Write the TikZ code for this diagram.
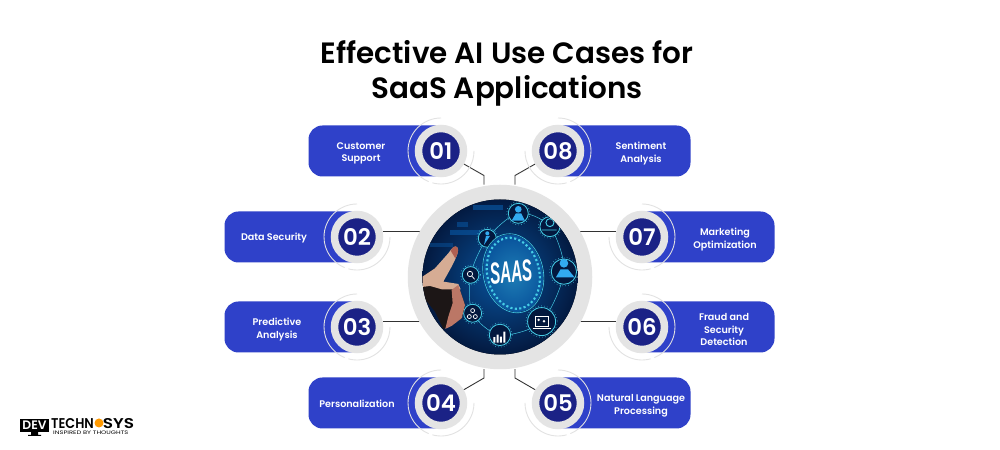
\documentclass[tikz,border=0pt]{standalone}
\usepackage{fontspec}
\setmainfont{Poppins}[BoldFont={Poppins SemiBold}]
\newfontfamily\saasfont{Liberation Sans}
\usetikzlibrary{backgrounds}
\definecolor{pillblue}{RGB}{47,65,201}
\definecolor{badgenavy}{RGB}{27,34,134}
\definecolor{ringgray}{RGB}{228,228,228}
\definecolor{arcgray}{RGB}{226,226,226}
\definecolor{linkdark}{RGB}{50,50,50}
\definecolor{glowcyan}{RGB}{70,205,230}
\definecolor{iconblue}{RGB}{50,170,240}
\definecolor{deepnavy}{RGB}{3,24,62}
\definecolor{midnavy}{RGB}{8,82,155}
\definecolor{skinlight}{RGB}{214,172,148}
\definecolor{skinred}{RGB}{176,96,82}
\definecolor{skindark}{RGB}{28,22,22}
\tikzset{
  pill/.style={fill=pillblue,rounded corners=14*0.03cm},
  pilltext/.style={text=white,font=\bfseries\fontsize{8.2}{10.7}\selectfont,align=center},
  badge/.style={circle,fill=badgenavy,draw=ringgray,line width=7.5*0.03cm,minimum size=45*0.03cm,inner sep=0pt,text=white,font=\bfseries\fontsize{19.5}{20}\selectfont},
  hub/.style={circle,draw=ringgray,line width=15*0.03cm,minimum size=169.5*0.03cm,inner sep=0pt},
  thinarc/.style={draw=arcgray,line width=0.75pt},
  link/.style={draw=linkdark,line width=0.75pt},
  orbit/.style={draw=glowcyan,line width=0.4pt},
  iconcircle/.style={draw=glowcyan,line width=0.7pt,fill=deepnavy},
}
\begin{document}
\begin{tikzpicture}[x=0.03cm,y=0.03cm]
  \useasboundingbox (0,0) rectangle (1000,450);

  \node[font=\bfseries\fontsize{25.1}{29.9}\selectfont,align=center] (title) at (507,377) {Effective AI Use Cases for\\SaaS Applications};

  \node[hub] (hub) at (500,173) {};

  % pills, badges and the two thin arcs, side 1 = pill on the left
  \foreach \n/\cx/\cy/\s/\tx/\dy/\txt in {
    01/441/299/1/361/-2.5/{Customer\\Support},
    02/357/213/1/274/-1/{Data Security},
    03/357/123/1/277/-2.5/{Predictive\\Analysis},
    04/441/47/1/357/-1/{Personalization},
    05/558/47/-1/641/-2.5/{Natural Language\\Processing},
    06/642/123/-1/724/-2.5/{Fraud and\\Security\\Detection},
    07/642/213/-1/725/-2.5/{Marketing\\Optimization},
    08/558/299/-1/641/-2.5/{Sentiment\\Analysis}}{
    \fill[pill] (\cx-\s*132.5,\cy-25.5) rectangle (\cx+\s*15,\cy+25.5);
    \node[pilltext] (label\n) at (\tx,\cy+\dy) {\txt};
    \node[badge] (badge\n) at (\cx,\cy) {\n};
    \draw[thinarc] ([shift={(90:33)}]\cx,\cy) arc[start angle=90,delta angle=\s*158,radius=33];
    \draw[thinarc] ([shift={(90-\s*90:33)}]\cx,\cy) arc[start angle=90-\s*90,delta angle=-\s*105,radius=33];
  }

  % connectors sit behind the hub ring
  \coordinate (elbow01) at (484,274.5);
  \coordinate (elbow04) at (484,72);
  \coordinate (elbow05) at (515,72);
  \coordinate (elbow08) at (515,274.5);
  \begin{scope}[on background layer]
    \fill[white] (0,0) rectangle (1000,450);
    \draw[link] (badge01) -- (elbow01) -- (elbow01 |- hub.north);
    \draw[link] (badge04) -- (elbow04) -- (elbow04 |- hub.south);
    \draw[link] (badge05) -- (elbow05) -- (elbow05 |- hub.south);
    \draw[link] (badge08) -- (elbow08) -- (elbow08 |- hub.north);
    \draw[link] (badge02.12) -- (hub |- badge02.12);
    \draw[link] (badge03.12) -- (hub |- badge03.12);
    \draw[link] (badge06.168) -- (hub |- badge06.168);
    \draw[link] (badge07.168) -- (hub |- badge07.168);
  \end{scope}

  % the photo inside the hub
  \begin{scope}
    \clip (500,173) circle[radius=77.5];
    \begin{scope}[shift={(410,270)},x=0.01cm,y=-0.01cm]
      \fill[inner color=midnavy,outer color=deepnavy] (270,290) circle[radius=240];
      \fill[midnavy,opacity=.7] (120,150) rectangle (230,165);
      \fill[midnavy,opacity=.6] (140,125) rectangle (175,140);
      \fill[midnavy,opacity=.7] (190,75) rectangle (280,90);
      \fill[midnavy,opacity=.5] (60,190) rectangle (130,200);
      \draw[orbit] plot[smooth cycle] coordinates {(232,175) (325,100) (420,140) (462,275) (395,425) (270,465) (188,400) (182,285)};
      % round icons
      \foreach \ix/\iy/\ir in {325/100/30,420/140/30,462/275/38,395/425/42,270/465/32,188/400/27,182/285/25,232/175/27}{
        \filldraw[iconcircle] (\ix,\iy) circle[radius=\ir];
        \draw[glowcyan,dotted,line width=0.5pt] (\ix,\iy) circle[radius=\ir+5];
      }
      \fill[iconblue] (325,88) circle[radius=10];
      \fill[iconblue] (305,122) -- (318,100) -- (334,100) -- (345,122) -- cycle;
      \fill[iconblue] (462,250) circle[radius=13];
      \fill[iconblue] (438,292) -- (452,268) -- (474,268) -- (494,292) -- cycle;
      \fill[iconblue] (232,160) circle[radius=6];
      \fill[iconblue] (222,195) -- (228,168) -- (240,168) -- cycle;
      \draw[glowcyan,line width=0.8pt] (420,128) circle[radius=12] (395,150) -- (440,150);
      \draw[white,line width=0.6pt] (180,282) circle[radius=8] (186,289) -- (194,298);
      \draw[white,line width=0.6pt] (188,392) circle[radius=6] (178,410) circle[radius=6] (196,410) circle[radius=6];
      \draw[white,line width=0.6pt] (375,408) rectangle (415,438) (368,444) -- (422,444);
      \fill[white] (386,420) circle[radius=4] (402,424) circle[radius=4];
      \fill[white] (250,488) rectangle (256,472) (260,488) rectangle (266,464) (270,488) rectangle (276,470) (280,488) rectangle (286,455);
      % glowing SAAS disc
      \fill[inner color=midnavy!65!glowcyan,outer color=midnavy,rotate around={13:(310,280)}] (310,280) ellipse[x radius=88,y radius=118];
      \draw[glowcyan,line width=1.8pt,dotted,rotate around={13:(310,280)}] (310,280) ellipse[x radius=78,y radius=108];
      \draw[glowcyan,line width=0.5pt,rotate around={13:(310,280)}] (310,280) ellipse[x radius=90,y radius=120];
      \node[text=white,inner sep=0pt,rotate=6] (saas) at (303,277) {\scalebox{.5}[1]{\saasfont\itshape\bfseries\fontsize{26}{26}\selectfont SAAS}};
      % pointing hand
      \fill[skindark] (30,295) -- (75,265) -- (100,305) -- (145,315) -- (165,375) -- (155,415) -- (130,430) -- (100,447) -- (75,395) -- (30,340) -- cycle;
      \fill[skinlight] (30,295) -- (75,265) -- (115,220) .. controls (125,205) and (135,195) .. (142,202) .. controls (150,212) and (135,240) .. (125,260) -- (100,305) -- (145,312) -- (152,328) -- (95,328) -- (60,318) -- (30,322) -- cycle;
      \fill[skinred] (122,212) .. controls (128,200) and (136,196) .. (142,202) .. controls (148,210) and (142,225) .. (136,235) -- cycle;
      \fill[skinred!70!skinlight] (145,315) -- (165,375) -- (155,415) -- (125,438) -- (106,447) -- (115,410) -- (128,370) -- (125,330) -- cycle;
    \end{scope}
  \end{scope}

  % logo bottom left
  \fill[black] (20,18) rectangle (49,31);
  \fill[black] (31,18) rectangle (38,15) (28,15) rectangle (41,14);
  \node[text=white,font=\bfseries\fontsize{10.5}{11}\selectfont,inner sep=0pt,text height=7pt,text depth=0pt] (logodev) at (34.5,24.5) {DEV};
  \fill[orange!80!yellow] (99,27) circle[radius=4.5];
  \node[inner sep=0pt,anchor=south west,align=left] (logotech) at (51,15.5) {{\bfseries\fontsize{11.5}{7}\selectfont\scalebox{.95}[1.05]{TECHN}\hspace{7.8pt}\scalebox{1.25}[1.05]{SYS}}\\[-7.4pt]{\hspace{1.7pt}\fontsize{4.3}{3.4}\selectfont\scalebox{1.33}[1]{INSPIRED BY THOUGHTS}}};
\end{tikzpicture}
\end{document}
